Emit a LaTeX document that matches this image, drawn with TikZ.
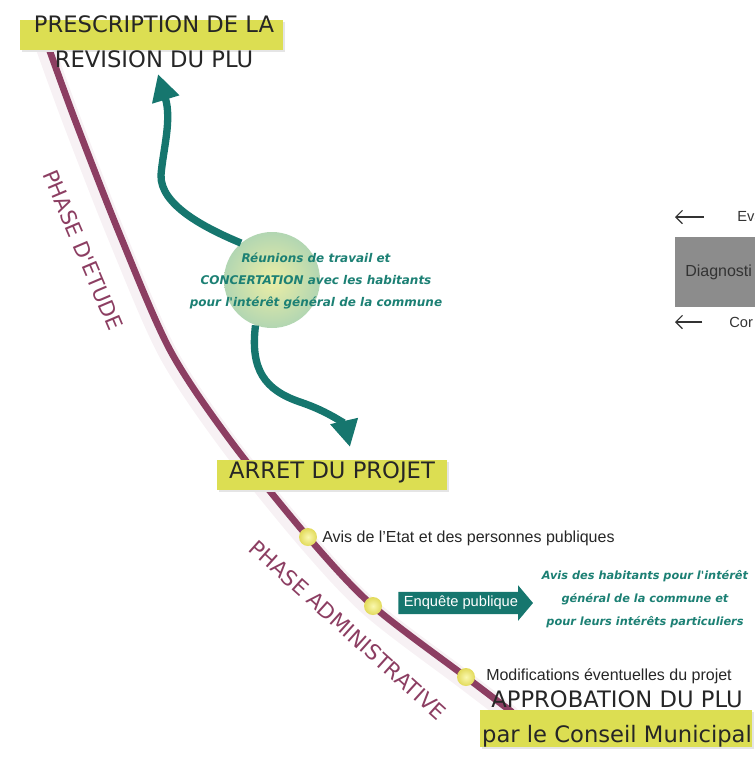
\documentclass[tikz,border=0pt]{standalone}
\usepackage{fontspec}
\setmainfont{Liberation Sans}
\newfontfamily\manuscrit{DejaVu Sans}
\usetikzlibrary{arrows.meta,shapes.arrows,calc}

\definecolor{jaune}{RGB}{220,222,82}
\definecolor{prune}{RGB}{140,62,98}
\definecolor{canard}{RGB}{22,118,110}
\definecolor{canardtxt}{RGB}{28,128,116}
\definecolor{bullein}{RGB}{236,238,165}
\definecolor{bulleout}{RGB}{178,214,178}
\definecolor{pointin}{RGB}{250,248,175}
\definecolor{pointout}{RGB}{226,218,90}
\definecolor{grisdiag}{RGB}{140,140,140}

\tikzset{
  bande/.style={fill=jaune, inner sep=0pt,
    preaction={fill=black!10, transform canvas={xshift=1.5pt,yshift=-1.5pt}}},
  titre/.style={font=\manuscrit\fontsize{17}{26}\selectfont, align=center, inner sep=0pt, text=black!85},
  phase/.style={font=\manuscrit\fontsize{16}{19}\selectfont, text=prune, inner sep=0pt},
  point/.style={circle, minimum size=13.5pt, inner sep=0pt, shading=radial, inner color=pointin, outer color=pointout},
  info/.style={font=\fontsize{12}{14}\selectfont, anchor=west, inner sep=0pt, text=black!85},
  manus/.style={text=canardtxt, align=center, inner sep=0pt},
  vague/.style={-{Triangle[length=20pt,width=20pt]}, line width=5.5pt, draw=canard},
  chrono/.style={draw=prune, line width=5pt, line cap=round},
  halo/.style={draw=prune!7, line width=14pt, line cap=round, transform canvas={xshift=-2pt,yshift=-1.5pt}},
  retour/.style={-{Straight Barb[length=5pt,width=10pt]}, line width=0.8pt, draw=black!80},
}

\begin{document}
\begin{tikzpicture}[x=0.75pt,y=0.75pt,yscale=-1,xscale=1]
\useasboundingbox (0,0) rectangle (755,769);

% timeline
\coordinate (t0) at (48,46);
\coordinate (t1) at (75,120);
\coordinate (t2) at (120,235);
\coordinate (t3) at (170,350);
\coordinate (t4) at (230,440);
\coordinate (t5) at (308,537);
\coordinate (t6) at (373,606);
\coordinate (t7) at (466,677);
\coordinate (t8) at (512,712);
\draw[halo] plot[smooth] coordinates {(t0) (t1) (t2) (t3) (t4) (t5) (t6) (t7) (t8)};
\draw[chrono] plot[smooth] coordinates {(t0) (t1) (t2) (t3) (t4) (t5) (t6) (t7) (t8)};

% yellow bands
\node[bande, minimum width=197pt, minimum height=22.5pt] (bandeA) at (151.5,35) {};
\node[bande, minimum width=172.5pt, minimum height=22.5pt] (bandeB) at (332,475) {};
\node[bande, minimum width=204pt, minimum height=28pt] (bandeC) at (616,728.5) {};

% steps on the line
\node[point] (pt1) at (t5) {};
\node[point] (pt2) at (t6) {};
\node[point] (pt3) at (t7) {};

% concertation bubble
\node[circle, minimum size=72pt, inner sep=0pt, shading=radial, inner color=bullein, outer color=bulleout] (bulle) at (272,280) {};
\coordinate (haut) at (158,74);
\coordinate (bas) at (350,447);
\draw[vague] (bulle.130) .. controls (205,228) and (160,205) .. (161,175) .. controls (163,150) and (172,120) .. (haut);
\draw[vague] (bulle.250) .. controls (250,370) and (265,390) .. (300,402) .. controls (330,412) and (345,425) .. (bas);

% titles
\node[titre] (prescr) at (154,42) {PRESCRIPTION DE LA\\REVISION DU PLU};
\node[titre] (arret) at (332,472) {ARRET DU PROJET};
\node[titre] (approb) at (617,719) {APPROBATION DU PLU\\par le Conseil Municipal};

\node[phase, rotate=-67] (etude) at (83,250) {PHASE D'ETUDE};
\node[phase, rotate=-42] (admin) at (348,630) {PHASE ADMINISTRATIVE};

\node[manus, font=\manuscrit\bfseries\itshape\fontsize{9}{16.5}\selectfont] (concert) at (316,281)
  {Réunions de travail et\\CONCERTATION avec les habitants\\pour l'intérêt général de la commune};

% administrative steps
\node[info] (avis) at (322,538) {Avis de l'Etat et des personnes publiques};
\node[info] (modif) at (486,676) {Modifications éventuelles du projet};
\node[single arrow, fill=canard, text=white, font=\fontsize{11}{13}\selectfont, inner xsep=4pt, inner ysep=3pt,
  single arrow head extend=5pt, single arrow tip angle=100, anchor=tail] (enquete) at (398,603) {Enquête publique};
\node[manus, font=\manuscrit\bfseries\itshape\fontsize{8.5}{17}\selectfont] (habitants) at (645,599)
  {Avis des habitants pour l'intérêt\\général de la commune et\\pour leurs intérêts particuliers};

% right part
\node[fill=grisdiag, minimum width=60pt, minimum height=52pt, anchor=west, inner sep=0pt] (fond) at (675,272) {};
\node[anchor=west, inner sep=0pt, font=\fontsize{12}{14}\selectfont, text=black!80] (diag) at (685,272) {Diagnosti};
\node[anchor=west, inner sep=0pt, font=\fontsize{11}{13}\selectfont, text=black!80] (eva) at (737,217) {Eva};
\node[anchor=west, inner sep=0pt, font=\fontsize{11}{13}\selectfont, text=black!80] (cor) at (729,322) {Cor};
\coordinate (evaG) at (675,217);
\coordinate (corG) at (675,322);
\draw[retour] ([xshift=-25pt]eva.west) -- (evaG);
\draw[retour] ([xshift=-20pt]cor.west) -- (corG);

\end{tikzpicture}
\end{document}
